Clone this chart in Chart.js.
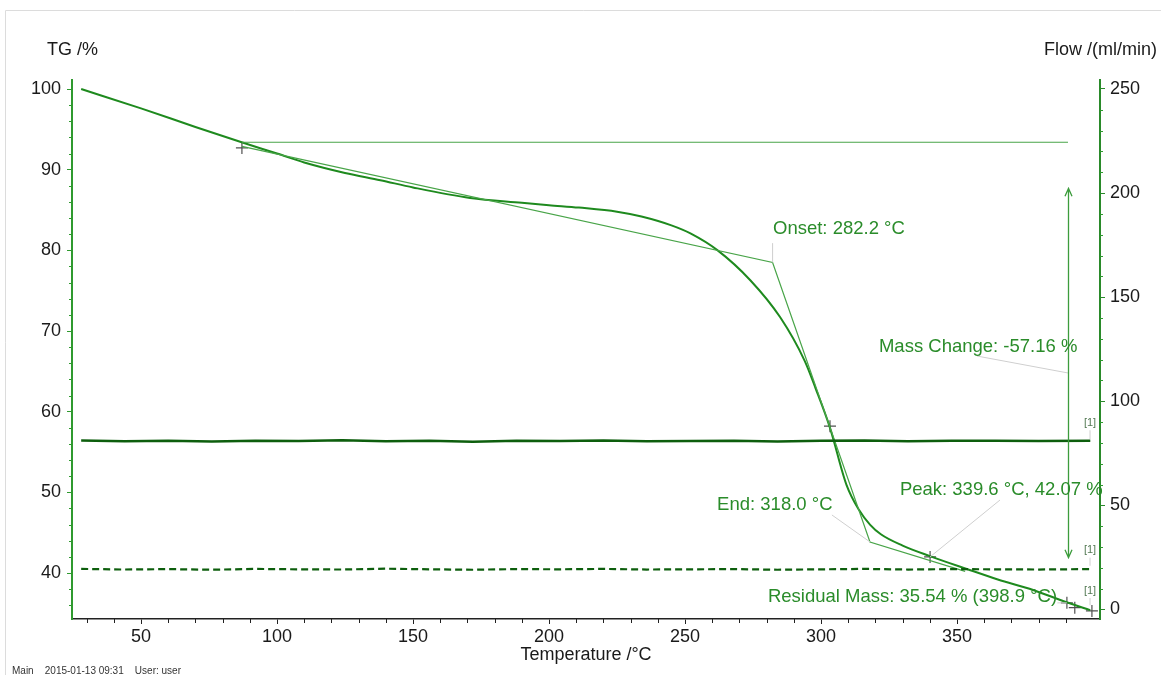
<!DOCTYPE html>
<html>
<head>
<meta charset="utf-8">
<script src="https://cdn.jsdelivr.net/npm/chart.js@4.4.1/dist/chart.umd.min.js"></script>
<style>
  html, body { margin: 0; padding: 0; background: #fff; }
  #wrap { position: relative; width: 1161px; height: 675px; }
</style>
</head>
<body>
<div id="wrap"><canvas id="tg" width="1161" height="675"></canvas></div>
<script>
// TG curve (temperature °C / mass %)
const tgTemp = [28, 50, 70, 87, 100, 110, 125, 138, 150, 171, 190, 200, 211, 225, 234, 245, 252, 262, 274, 285, 294, 298, 303.3, 309.4, 314, 318, 322, 330, 340, 353.6, 365, 378, 390, 399];
const tgMass = [100, 97.6, 95.3, 93.4, 92.0, 90.9, 89.6, 88.7, 87.8, 86.5, 85.9, 85.6, 85.3, 84.8, 84.2, 83.1, 82.1, 80.0, 76.3, 71.7, 66.3, 62.9, 58.0, 50.9, 47.8, 46.0, 44.8, 43.4, 42.1, 40.5, 39.2, 37.9, 36.4, 35.4];

// purge gas flows (ml/min)
const flowTemp = [28, 44, 60, 76, 92, 108, 124, 140, 156, 172, 188, 204, 220, 236, 252, 268, 284, 300, 316, 332, 348, 364, 380, 399];
const flowTop = [81.2, 80.8, 81.0, 80.7, 81.1, 80.9, 81.3, 80.8, 81.0, 80.6, 81.1, 80.9, 81.2, 80.8, 80.9, 81.1, 80.7, 81.0, 81.2, 80.8, 81.0, 81.1, 80.9, 81.0];
const flowLow = [19.5, 19.2, 19.4, 19.1, 19.5, 19.3, 19.2, 19.6, 19.3, 19.1, 19.4, 19.3, 19.5, 19.2, 19.3, 19.4, 19.1, 19.3, 19.5, 19.2, 19.4, 19.3, 19.2, 19.4];

// evaluation: tangents (onset / end construction)
const tanTemp = [87.1, 282.2, 318.0, 353.0];
const tanMass = [92.9, 78.5, 43.85, 40.2];

// mass change reference and arrow
const refLineTemp = [87.1, 390.8];
const refLineMass = [93.4, 93.4];
const arrowTemp = 390.8;
const arrowMass = [87.7, 41.9];

// "+" markers
const markTemp = [87.1, 303.3, 340.1, 390.4, 393.3, 399.6];
const markMass = [92.7, 58.2, 42.0, 36.3, 35.7, 35.3];

// tick labels
const xTicks = [50, 100, 150, 200, 250, 300, 350];
const yTicks = [40, 50, 60, 70, 80, 90, 100];
const y2Ticks = [0, 50, 100, 150, 200, 250];

// annotation texts (left edge, vertical centre in data units)
const notes = [
  { text: 'Onset: 282.2 °C', t: 282.35, m: 82.65 },
  { text: 'Mass Change: -57.16 %', t: 321.3, m: 68.0 },
  { text: 'End: 318.0 °C', t: 261.8, m: 48.4 },
  { text: 'Peak: 339.6 °C, 42.07 %', t: 329.0, m: 50.3 },
  { text: 'Residual Mass: 35.54 % (398.9 °C)', t: 280.5, m: 37.0 }
];
const leaders = [
  [[282.2, 80.9], [282.2, 78.5]],
  [[357.35, 66.9], [390.8, 64.8]],
  [[304.0, 47.2], [318.0, 43.85]],
  [[365.8, 49.05], [340.1, 42.0]],
  [[386.9, 36.3], [390.4, 36.3]],
  [[398.9, 57.7], [398.9, 56.6]],
  [[398.9, 41.9], [398.9, 40.9]],
  [[398.9, 36.9], [398.9, 36.0]]
];
const flags = [[398.9, 58.6], [398.9, 42.85], [398.9, 37.8]];

const FONT = "'Liberation Sans', Arial, sans-serif";
const GREEN_TEXT = '#2a8c2a';
const AXIS_GREEN = '#2f9a2f';

const pts = (xs, ys) => xs.map((x, i) => ({ x: x, y: ys[i] }));

// minor ticks, axis titles, frame
const decorations = {
  id: 'decorations',
  beforeDraw(chart) {
    const ctx = chart.ctx;
    ctx.save();
    ctx.strokeStyle = '#dcdcdc';
    ctx.lineWidth = 1;
    ctx.beginPath();
    ctx.moveTo(5.5, 675);
    ctx.lineTo(5.5, 10.5);
    ctx.lineTo(1161, 10.5);
    ctx.stroke();
    ctx.restore();
  },
  afterDraw(chart) {
    const { ctx, scales: { x, y, y2 } } = chart;
    ctx.save();
    ctx.lineWidth = 1;

    ctx.strokeStyle = '#222';
    ctx.beginPath();
    for (let t = 30; t <= 400; t += 10) {
      if (t % 50 === 0) continue;
      const px = Math.round(x.getPixelForValue(t)) + 0.5;
      ctx.moveTo(px, x.top);
      ctx.lineTo(px, x.top + 4);
    }
    ctx.stroke();

    ctx.strokeStyle = AXIS_GREEN;
    ctx.beginPath();
    for (let v = 36; v <= 100; v += 2) {
      if (v % 10 === 0) continue;
      const py = Math.round(y.getPixelForValue(v)) + 0.5;
      ctx.moveTo(y.right, py);
      ctx.lineTo(y.right - 3, py);
    }
    for (let v = 10; v <= 250; v += 10) {
      if (v % 50 === 0) continue;
      const py = Math.round(y2.getPixelForValue(v)) + 0.5;
      ctx.moveTo(y2.left, py);
      ctx.lineTo(y2.left + 3, py);
    }
    ctx.stroke();

    ctx.fillStyle = '#1a1a1a';
    ctx.font = '18px ' + FONT;
    ctx.textBaseline = 'middle';
    ctx.textAlign = 'left';
    ctx.fillText('TG /%', 47, 50);
    ctx.textAlign = 'right';
    ctx.fillText('Flow /(ml/min)', 1157, 50);
    ctx.textAlign = 'center';
    ctx.fillText('Temperature /°C', (x.left + x.right) / 2, 655);

    ctx.font = '10px ' + FONT;
    ctx.textAlign = 'left';
    ctx.textBaseline = 'top';
    ctx.fillStyle = '#333';
    ctx.fillText('Main    2015-01-13 09:31    User: user', 12, 666);
    ctx.restore();
  }
};

// evaluation texts, leader lines and mass change arrow
const evaluation = {
  id: 'evaluation',
  afterDatasetsDraw(chart) {
    const { ctx, scales: { x, y } } = chart;
    ctx.save();

    ctx.strokeStyle = '#cfcfcf';
    ctx.lineWidth = 1;
    leaders.forEach(seg => {
      ctx.beginPath();
      ctx.moveTo(x.getPixelForValue(seg[0][0]), y.getPixelForValue(seg[0][1]));
      ctx.lineTo(x.getPixelForValue(seg[1][0]), y.getPixelForValue(seg[1][1]));
      ctx.stroke();
    });

    const ax = Math.round(x.getPixelForValue(arrowTemp)) + 0.5;
    const top = y.getPixelForValue(arrowMass[0]);
    const bot = y.getPixelForValue(arrowMass[1]);
    ctx.strokeStyle = '#3c9c3c';
    ctx.lineWidth = 1.3;
    ctx.beginPath();
    ctx.moveTo(ax, top);
    ctx.lineTo(ax, bot);
    ctx.moveTo(ax - 3.5, top + 8);
    ctx.lineTo(ax, top);
    ctx.lineTo(ax + 3.5, top + 8);
    ctx.moveTo(ax - 3.5, bot - 8);
    ctx.lineTo(ax, bot);
    ctx.lineTo(ax + 3.5, bot - 8);
    ctx.stroke();

    ctx.fillStyle = GREEN_TEXT;
    ctx.font = '18.5px ' + FONT;
    ctx.textAlign = 'left';
    ctx.textBaseline = 'middle';
    notes.forEach(n => {
      ctx.fillText(n.text, x.getPixelForValue(n.t), y.getPixelForValue(n.m));
    });

    ctx.fillStyle = '#557a55';
    ctx.font = '11px ' + FONT;
    ctx.textAlign = 'center';
    flags.forEach(f => {
      ctx.fillText('[1]', x.getPixelForValue(f[0]), y.getPixelForValue(f[1]));
    });
    ctx.restore();
  }
};

const tickFont = { family: FONT, size: 18 };

new Chart(document.getElementById('tg'), {
  type: 'line',
  data: {
    datasets: [
      {
        data: pts(flowTemp, flowTop),
        yAxisID: 'y2',
        borderColor: '#0d5e0d',
        borderWidth: 2.5,
        pointRadius: 0,
        tension: 0
      },
      {
        data: pts(flowTemp, flowLow),
        yAxisID: 'y2',
        borderColor: '#0d5e0d',
        borderWidth: 2.2,
        borderDash: [7, 4],
        pointRadius: 0,
        tension: 0
      },
      {
        data: pts(refLineTemp, refLineMass),
        yAxisID: 'y',
        borderColor: '#48a448',
        borderWidth: 1.2,
        pointRadius: 0
      },
      {
        data: pts(tanTemp, tanMass),
        yAxisID: 'y',
        borderColor: '#48a448',
        borderWidth: 1.2,
        pointRadius: 0,
        tension: 0
      },
      {
        data: pts(tgTemp, tgMass),
        yAxisID: 'y',
        borderColor: '#1e8a1e',
        borderWidth: 2,
        pointRadius: 0,
        cubicInterpolationMode: 'monotone'
      },
      {
        data: pts(markTemp, markMass),
        yAxisID: 'y',
        showLine: false,
        pointStyle: 'cross',
        pointRadius: 6,
        borderColor: '#505050',
        borderWidth: 1.2
      }
    ]
  },
  options: {
    responsive: false,
    animation: false,
    events: [],
    layout: { padding: { top: 80, left: 0, right: 0, bottom: 0 } },
    plugins: { legend: { display: false }, tooltip: { enabled: false } },
    scales: {
      x: {
        type: 'linear',
        position: 'bottom',
        min: 24.63,
        max: 402.57,
        border: { display: true, color: '#222', width: 1.5 },
        grid: { drawOnChartArea: false, drawTicks: true, tickLength: 5, tickColor: '#222' },
        ticks: { font: tickFont, color: '#1a1a1a', padding: 2, maxRotation: 0 },
        afterBuildTicks: s => { s.ticks = xTicks.map(v => ({ value: v })); },
        afterFit: s => { s.height = 56; }
      },
      y: {
        type: 'linear',
        position: 'left',
        min: 34.30,
        max: 101.12,
        border: { display: true, color: AXIS_GREEN, width: 2 },
        grid: { drawOnChartArea: false, drawTicks: true, tickLength: 5, tickColor: AXIS_GREEN },
        ticks: { font: tickFont, color: '#1a1a1a', padding: 6 },
        afterBuildTicks: s => { s.ticks = yTicks.map(v => ({ value: v })); },
        afterFit: s => { s.width = 72; }
      },
      y2: {
        type: 'linear',
        position: 'right',
        min: -4.56,
        max: 254.3,
        border: { display: true, color: '#2a8a2a', width: 2 },
        grid: { drawOnChartArea: false, drawTicks: true, tickLength: 5, tickColor: '#2a8a2a' },
        ticks: { font: tickFont, color: '#1a1a1a', padding: 5 },
        afterBuildTicks: s => { s.ticks = y2Ticks.map(v => ({ value: v })); },
        afterFit: s => { s.width = 61; }
      }
    }
  },
  plugins: [decorations, evaluation]
});
</script>
</body>
</html>
